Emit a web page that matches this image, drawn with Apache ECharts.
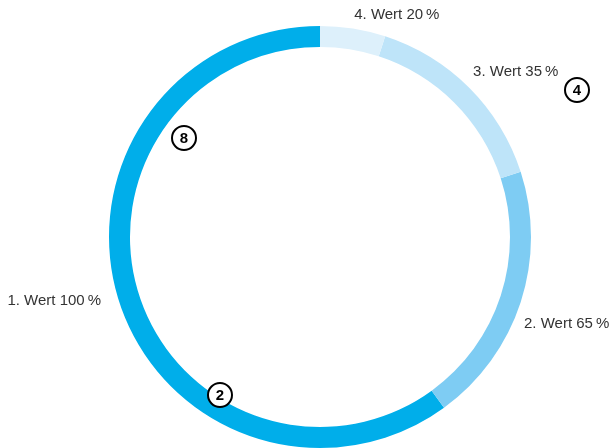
<!DOCTYPE html>
<html>
<head>
<meta charset="utf-8">
<script src="https://cdn.jsdelivr.net/npm/echarts@6/dist/echarts.min.js"></script>
<style>
html,body{margin:0;padding:0;background:#fff;}
#chart{width:614px;height:448px;}
</style>
</head>
<body>
<div id="chart"></div>
<script>
// Data
const categories = ['1. Wert', '2. Wert', '3. Wert', '4. Wert'];
const sliceValues = [60, 20, 15, 5];
const labelPercents = [100, 65, 35, 20];
const badgeLabels = ['8', '4', '2'];

// Styles / layout
const sliceColors = ['#00AEEA', '#7ECCF3', '#BEE4F9', '#DDF0FB'];
const labelShift = [[0, -6], [-15, 17], [-11, -6], [-6, 0]];
const badgePos = [[184, 138], [577, 90], [220, 395]];

const chart = echarts.init(document.getElementById('chart'), null, {renderer: 'canvas'});

const data = categories.map((c, i) => ({
  name: c,
  value: sliceValues[i],
  itemStyle: {color: sliceColors[i]},
  label: {formatter: c + ' ' + labelPercents[i] + '\u2009%'}
}));

const graphics = badgeLabels.map((t, i) => ({
  type: 'group',
  x: badgePos[i][0],
  y: badgePos[i][1],
  zlevel: 1,
  z: 100,
  children: [
    {type: 'circle', z: 100, zlevel: 1, shape: {cx: 0, cy: 0, r: 12}, style: {fill: '#fff', stroke: '#000', lineWidth: 2}},
    {type: 'text', z: 101, zlevel: 1, x: 0, y: 1, style: {text: t, fill: '#000', font: 'bold 15px "Liberation Sans", Arial, sans-serif', align: 'center', verticalAlign: 'middle'}}
  ]
}));

chart.setOption({
  animation: false,
  backgroundColor: '#fff',
  graphic: graphics,
  series: [{
    type: 'pie',
    center: [320, 237],
    radius: [190, 211],
    startAngle: 90,
    clockwise: false,
    avoidLabelOverlap: false,
    silent: true,
    label: {
      show: true,
      position: 'outside',
      color: '#333',
      fontSize: 15,
      fontFamily: '"Liberation Sans", Arial, sans-serif',
      overflow: 'none',
      distanceToLabelLine: 5
    },
    labelLine: {show: false, length: 14, length2: 0},
    labelLayout: function (params) {
      const s = labelShift[params.dataIndex];
      return {dx: s[0], dy: s[1]};
    },
    data: data
  }]
});
</script>
</body>
</html>
